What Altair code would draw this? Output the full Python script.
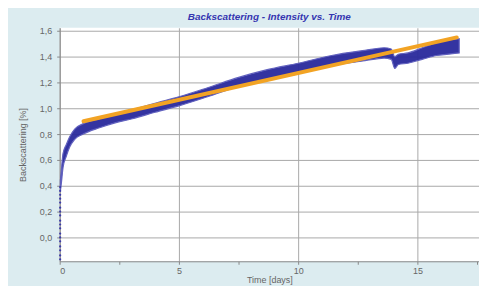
import altair as alt
import pandas as pd

# Dense scatter band (time, lower edge, upper edge)
band_t  = [0.03, 0.07, 0.14, 0.28, 0.42, 0.63, 0.97, 1.67, 2.36, 3.05, 4.0, 5.0, 6.2, 7.5, 8.7,
           10.0, 11.4, 12.8, 13.6, 13.9, 14.05, 14.2, 14.6, 15.2, 15.8, 16.3, 16.75]
band_lo = [0.36, 0.42, 0.54, 0.63, 0.70, 0.76, 0.80, 0.85, 0.89, 0.92, 0.97, 1.02, 1.09, 1.17, 1.22,
           1.27, 1.33, 1.37, 1.39, 1.38, 1.31, 1.34, 1.35, 1.38, 1.41, 1.42, 1.43]
band_hi = [0.44, 0.52, 0.65, 0.72, 0.78, 0.84, 0.88, 0.92, 0.96, 0.99, 1.04, 1.09, 1.16, 1.24, 1.30,
           1.35, 1.41, 1.45, 1.47, 1.46, 1.40, 1.42, 1.43, 1.47, 1.51, 1.53, 1.54]

# Sparse initial points at t ~ 0
start_t = [0.02] * 18
start_v = [-0.17, -0.14, -0.10, -0.07, -0.03, 0.00, 0.03, 0.07, 0.10, 0.13, 0.17, 0.20,
           0.23, 0.27, 0.30, 0.33, 0.36, 0.39]

# Orange linear fit
fit_t = [1.0, 16.65]
fit_v = [0.90, 1.55]

y_ticks = [0.0, 0.2, 0.4, 0.6, 0.8, 1.0, 1.2, 1.4, 1.6]
x_ticks = [0, 2.5, 5, 7.5, 10, 12.5, 15, 17.5]

band_df = pd.DataFrame({"t": band_t, "lo": band_lo, "hi": band_hi})
start_df = pd.DataFrame({"t": start_t, "v": start_v})
fit_df = pd.DataFrame({"t": fit_t, "v": fit_v})

xscale = alt.Scale(domain=[0, 17.58], nice=False, zero=False)
yscale = alt.Scale(domain=[-0.185, 1.625], nice=False, zero=False)

xaxis = alt.Axis(values=x_ticks, tickCount=30, title="Time [days]",
                 labelExpr="datum.value % 5 == 0 ? datum.value : ''",
                 gridOpacity={"condition": {"test": "datum.value % 5 == 0", "value": 1}, "value": 0},
                 tickSize=3, labelPadding=2, titlePadding=0, labelOverlap=False)
yaxis = alt.Axis(values=y_ticks, tickCount=30, title="Backscattering [%]",
                 labelExpr="replace(format(datum.value, '.1f'), '.', ',')",
                 tickSize=3, labelPadding=5, titlePadding=12, labelOverlap=False)

band = alt.Chart(band_df).mark_area(color="#2a2a9c", opacity=0.95, stroke="#5a5abc",
                                    strokeWidth=1.2, interpolate="monotone").encode(
    x=alt.X("t:Q", scale=xscale, axis=xaxis),
    y=alt.Y("lo:Q", scale=yscale, axis=yaxis),
    y2="hi:Q",
)

start = alt.Chart(start_df).mark_circle(color="#3a3aa8", size=5, opacity=1).encode(
    x=alt.X("t:Q", scale=xscale, axis=xaxis),
    y=alt.Y("v:Q", scale=yscale, axis=yaxis),
)

fit = alt.Chart(fit_df).mark_line(color="#f2a324", strokeWidth=4, strokeCap="round").encode(
    x=alt.X("t:Q", scale=xscale, axis=xaxis),
    y=alt.Y("v:Q", scale=yscale, axis=yaxis),
)

chart = alt.layer(band, start, fit).properties(
    width=422, height=235,
    title=alt.Title("Backscattering - Intensity vs. Time", fontSize=10, fontStyle="italic",
                    fontWeight="bold", color="#3535b0", font="Liberation Sans", offset=5),
    autosize=alt.AutoSizeParams(type="none"),
    padding={"left": 52, "top": 19, "right": 0, "bottom": 24},
    background="#dcecf0",
).configure_view(
    fill="white", strokeWidth=0
).configure_axis(
    labelFont="Liberation Sans", titleFont="Liberation Sans",
    labelFontSize=9, titleFontSize=9, labelColor="#666666", titleColor="#666666",
    titleFontWeight="normal", gridColor="#a8a8a8", gridWidth=1,
    domainColor="#888888", tickColor="#888888",
)

chart.save("out.html", embed_options={"renderer": "svg", "actions": False})
